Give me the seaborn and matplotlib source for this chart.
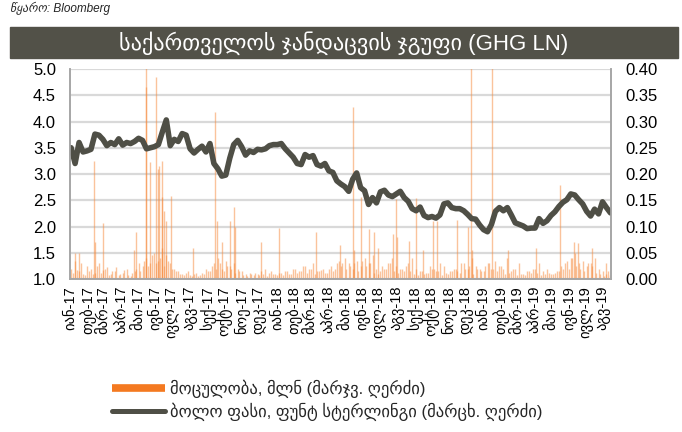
import pandas as pd
import seaborn as sns
import matplotlib.pyplot as plt
from matplotlib.patches import Rectangle
from matplotlib.lines import Line2D

# weekly closing price, GBP (left axis), starting 2017-01-03
price = [3.50, 3.20, 3.60, 3.42, 3.44, 3.47, 3.76, 3.74, 3.66, 3.54, 3.60, 3.56, 3.67,
         3.55, 3.60, 3.58, 3.62, 3.68, 3.64, 3.48, 3.50, 3.52, 3.56, 3.80, 4.03, 3.54,
         3.66, 3.62, 3.77, 3.74, 3.48, 3.40, 3.47, 3.53, 3.42, 3.58, 3.20, 3.10, 2.96,
         2.98, 3.30, 3.56, 3.64, 3.52, 3.36, 3.44,
         3.41, 3.47, 3.46, 3.48, 3.54, 3.56, 3.56, 3.58, 3.48, 3.40, 3.32, 3.20, 3.18,
         3.37, 3.32, 3.35, 3.18, 3.15, 3.20, 3.06, 3.03, 2.87, 2.81, 2.76, 2.67, 2.90,
         3.02, 2.74, 2.68, 2.42, 2.55, 2.45, 2.66, 2.69, 2.60, 2.57, 2.62, 2.67, 2.55,
         2.48, 2.34, 2.30, 2.37, 2.21, 2.17,
         2.19, 2.16, 2.22, 2.43, 2.45, 2.36, 2.34, 2.34, 2.30, 2.23, 2.15, 2.14, 2.03,
         1.94, 1.90, 2.04, 2.29, 2.36, 2.30, 2.36, 2.22, 2.07, 2.04, 2.01, 1.96, 1.97,
         1.97, 2.15, 2.06, 2.11, 2.21, 2.28, 2.38, 2.46, 2.51, 2.62, 2.60, 2.51, 2.43,
         2.29, 2.20, 2.33, 2.24, 2.47, 2.36, 2.26]

# typical traded volume, mln (right axis), on the same weekly dates (Tuesdays)
vol_base = [0.020, 0.035, 0.015, 0.010, 0.025, 0.020, 0.012, 0.030, 0.018, 0.022, 0.010, 0.015, 0.008,
            0.012, 0.020, 0.006, 0.015, 0.030, 0.025, 0.040, 0.030, 0.050, 0.035, 0.060, 0.045, 0.030,
            0.020, 0.015, 0.010, 0.012, 0.008, 0.010, 0.005, 0.012, 0.020, 0.015, 0.030, 0.040, 0.020,
            0.035, 0.025, 0.030, 0.020, 0.015, 0.010, 0.012, 0.008, 0.010, 0.015, 0.020, 0.012, 0.010,
            0.008, 0.012, 0.015, 0.010, 0.020, 0.012, 0.015, 0.025, 0.020, 0.030, 0.015, 0.018, 0.012,
            0.020, 0.015, 0.030, 0.025, 0.040, 0.030, 0.020, 0.035, 0.025, 0.040, 0.030, 0.045, 0.020,
            0.015, 0.020, 0.030, 0.040, 0.025, 0.020, 0.015, 0.030, 0.040, 0.020, 0.015, 0.010, 0.012,
            0.020, 0.015, 0.030, 0.025, 0.010, 0.015, 0.020, 0.012, 0.030, 0.020, 0.040, 0.025, 0.020,
            0.015, 0.030, 0.020, 0.035, 0.025, 0.020, 0.040, 0.015, 0.020, 0.030, 0.010, 0.015, 0.012,
            0.020, 0.030, 0.015, 0.020, 0.010, 0.012, 0.015, 0.020, 0.035, 0.040, 0.050, 0.030, 0.035,
            0.025, 0.030, 0.040, 0.020, 0.015, 0.010, 0.008]

# same, three days later in each week (Fridays)
vol_mid = [0.012, 0.018, 0.030, 0.008, 0.015, 0.010, 0.025, 0.012, 0.020, 0.008, 0.015, 0.022, 0.010,
           0.018, 0.008, 0.012, 0.020, 0.015, 0.035, 0.025, 0.045, 0.030, 0.040, 0.025, 0.035, 0.020, 0.015,
           0.010, 0.008, 0.015, 0.006, 0.012, 0.008, 0.010, 0.015, 0.025, 0.020, 0.030, 0.015, 0.025, 0.020,
           0.012, 0.015, 0.008, 0.006, 0.010, 0.012, 0.008, 0.010, 0.006, 0.015, 0.010, 0.012, 0.008, 0.015,
           0.010, 0.020, 0.015, 0.025, 0.012, 0.020, 0.010, 0.015, 0.020, 0.012, 0.025, 0.020, 0.035, 0.030,
           0.020, 0.025, 0.030, 0.015, 0.035, 0.025, 0.030, 0.012, 0.010, 0.025, 0.020, 0.030, 0.015, 0.012,
           0.020, 0.025, 0.015, 0.010, 0.008, 0.015, 0.012, 0.025, 0.020, 0.015, 0.008, 0.012, 0.015, 0.020,
           0.015, 0.030, 0.020, 0.025, 0.010, 0.020, 0.015, 0.025, 0.030, 0.020, 0.015, 0.025, 0.010, 0.012,
           0.020, 0.008, 0.010, 0.008, 0.015, 0.020, 0.012, 0.008, 0.010, 0.012, 0.010, 0.015, 0.025, 0.030,
           0.020, 0.040, 0.025, 0.020, 0.015, 0.030, 0.025, 0.012, 0.010, 0.006, 0.015, 0.008]

# single-day volume spikes, mln
spike_dates = ['2017-01-09', '2017-01-17', '2017-02-13', '2017-02-15', '2017-03-01', '2017-04-24',
               '2017-04-27', '2017-05-15', '2017-05-16', '2017-05-22', '2017-06-02', '2017-06-05',
               '2017-06-07', '2017-06-12', '2017-06-13', '2017-06-16', '2017-06-19', '2017-06-28',
               '2017-08-07', '2017-09-14', '2017-09-18', '2017-09-27', '2017-10-11', '2017-10-17',
               '2017-10-19', '2017-12-04', '2018-01-05', '2018-03-12', '2018-04-23', '2018-05-15',
               '2018-05-18', '2018-05-29', '2018-06-13', '2018-06-22', '2018-06-29', '2018-07-25',
               '2018-07-30', '2018-08-02', '2018-08-23', '2018-09-03', '2018-09-17', '2018-10-03',
               '2018-10-11', '2018-11-16', '2018-12-05', '2018-12-10', '2018-12-12', '2019-01-16',
               '2019-02-14', '2019-04-03', '2019-05-16', '2019-06-10', '2019-06-17', '2019-07-11',
               '2019-08-05']
spike_vals = [0.050, 0.050, 0.225, 0.070, 0.107, 0.055,
              0.090, 0.480, 0.365, 0.222, 0.384, 0.210,
              0.216, 0.225, 0.156, 0.130, 0.110, 0.159,
              0.060, 0.318, 0.110, 0.070, 0.110, 0.137,
              0.100, 0.070, 0.098, 0.090, 0.065, 0.328,
              0.055, 0.157, 0.095, 0.090, 0.060, 0.085,
              0.153, 0.080, 0.073, 0.155, 0.055, 0.110,
              0.110, 0.113, 0.100, 0.450, 0.055, 0.420,
              0.055, 0.060, 0.180, 0.070, 0.068, 0.060,
              0.030]

months = ['იან', 'თებ', 'მარ', 'აპრ', 'მაი', 'ივნ', 'ივლ', 'აგვ', 'სექ', 'ოქტ', 'ნოე', 'დეკ']
tick_labels = [f'{m}-{y}' for y in ('17', '18', '19') for m in months][:32]

title = 'საქართველოს ჯანდაცვის ჯგუფი (GHG LN)'
source = 'წყარო: Bloomberg'
vol_label = 'მოცულობა, მლნ (მარჯვ. ღერძი)'
price_label = 'ბოლო ფასი, ფუნტ სტერლინგი (მარცხ. ღერძი)'

LINE_C = '#4f4f46'
BAR_C = '#f6883a'

sns.set_theme(style='white')
plt.rcParams['font.family'] = ['Liberation Sans', 'DejaVu Sans']

dates = pd.date_range('2017-01-03', periods=len(price), freq='7D')
df = pd.DataFrame({'date': dates, 'price': price, 'vol': vol_base, 'vol_mid': vol_mid})
spikes = pd.DataFrame({'date': pd.to_datetime(spike_dates), 'vol': spike_vals})

W, H = 682, 432
fig = plt.figure(figsize=(W / 100, H / 100), dpi=100)
ax = fig.add_axes([70 / W, 1 - 279 / H, 541 / W, 210 / H])
ax2 = ax.twinx()

# volume bars on the right axis (drawn underneath)
ax2.vlines(df['date'], 0, df['vol'], color=BAR_C, lw=1, alpha=0.5)
ax2.vlines(df['date'] + pd.Timedelta(days=3), 0, df['vol_mid'], color=BAR_C, lw=1, alpha=0.5)
ax2.vlines(spikes['date'], 0, spikes['vol'], color=BAR_C, lw=1, alpha=0.5)
ax2.set_ylim(0, 0.40)
ax2.set_yticks([i * 0.05 for i in range(9)])
ax2.set_yticklabels([f'{i * 0.05:.2f}' for i in range(9)])
ax2.set_axisbelow(True)
ax2.grid(axis='y', color='#d9d9d9', lw=1.6)

# price line on the left axis (on top)
sns.lineplot(data=df, x='date', y='price', ax=ax, color=LINE_C, lw=4)
ax.set_zorder(ax2.get_zorder() + 1)
ax.patch.set_visible(False)
ax.set_ylim(1.0, 5.0)
ax.set_yticks([1 + i * 0.5 for i in range(9)])
ax.set_yticklabels([f'{1 + i * 0.5:.1f}' for i in range(9)])
ax.set_xlim(pd.Timestamp('2017-01-02'), pd.Timestamp('2019-08-14'))
ax.set_xticks(pd.date_range('2017-01-01', periods=len(tick_labels), freq='MS'))
ax.set_xticklabels(tick_labels, rotation=90)
ax.set_xlabel('')
ax.set_ylabel('')

for a in (ax, ax2):
    a.tick_params(length=0, labelsize=12, pad=10, colors='black')
    for s in a.spines.values():
        s.set_color('#a6a6a6')
        s.set_linewidth(1.2)
    a.spines['top'].set_visible(False)
ax.tick_params(axis='x', labelsize=10.5, pad=5)

# title band and source note
fig.patches.append(Rectangle((10 / W, 1 - 58 / H), 668 / W, 31 / H,
                             transform=fig.transFigure, color='#525148'))
fig.text(344 / W, 1 - 43 / H, title, color='white', ha='center', va='center', fontsize=16)
fig.text(10 / W, 1 - 2 / H, source, style='italic', fontsize=8.5, va='top')

handles = [Line2D([], [], color='#f47920', lw=5.5, solid_capstyle='butt'),
           Line2D([], [], color=LINE_C, lw=3.6, solid_capstyle='round')]
fig.legend(handles, [vol_label, price_label], loc='upper left',
           bbox_to_anchor=(112 / W, 1 - 380 / H), frameon=False, fontsize=12,
           handlelength=3.2, handletextpad=0.25, labelspacing=0.25,
           borderpad=0, borderaxespad=0)

fig.savefig('out.png', dpi=100)
